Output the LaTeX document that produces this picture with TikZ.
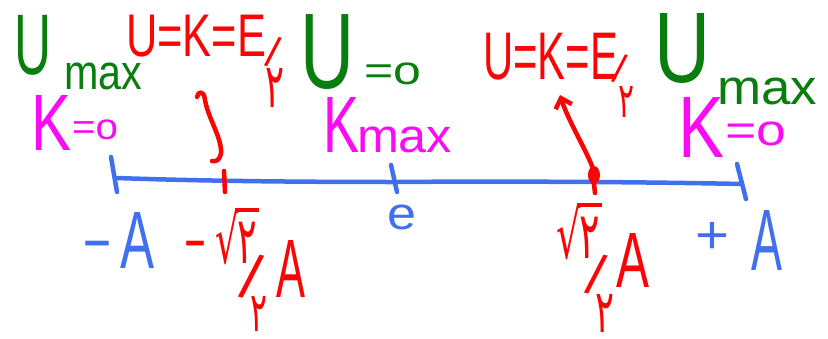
\documentclass[tikz,border=0pt]{standalone}
\usepackage{fontspec}
\usepackage{graphicx}
\setmainfont{Liberation Sans}
\newfontfamily\pfont{DejaVu Sans}
\usetikzlibrary{arrows.meta}
\newcommand{\fitto}[3]{\resizebox*{#1pt}{#2pt}{#3}}
\newcommand{\radtwo}{\hbox{\pfont √\kern-0.1em\vbox{\hrule height 0.06em\kern0.16em\hbox{\kern0.08em۲\kern0.05em}}}}
\definecolor{hgreen}{RGB}{10,125,15}
\definecolor{hred}{RGB}{250,5,5}
\definecolor{hmag}{RGB}{250,10,245}
\definecolor{hblue}{RGB}{65,112,238}
\begin{document}
\begin{tikzpicture}[x=1pt,y=-1pt,
  txt/.style={inner sep=0pt,outer sep=0pt,anchor=north west},
  gtxt/.style={txt,text=hgreen},
  mtxt/.style={txt,text=hmag},
  rtxt/.style={txt,text=hred},
  btxt/.style={txt,text=hblue},
  slash/.style={inner sep=0pt,outer sep=0pt,text=hred,rotate=-12},
  pen/.style={line width=4.5pt,line cap=round,line join=round}]
\useasboundingbox[fill=white] (0,0) rectangle (828,338);

% ---- green: potential energy
\node[gtxt] (uL)   at (15,15)  {\fitto{37}{60}{U}};
\node[gtxt] (maxL) at (64,63)  {\fitto{78}{27}{max}};
\node[gtxt] (uC)   at (300,15) {\fitto{54}{75}{U}};
\node[gtxt] (eqoC) at (364,63) {\fitto{57}{22}{=o}};
\node[gtxt] (uR)   at (654,13) {\fitto{56}{70}{U}};
\node[gtxt] (maxR) at (717,78) {\fitto{100}{27}{max}};

% ---- magenta: kinetic energy
\node[mtxt] (kL)   at (31,95)  {\fitto{40}{55}{K}};
\node[mtxt] (eqoL) at (72,120) {\fitto{46}{20}{=o}};
\node[mtxt] (kC)   at (323,97) {\fitto{36}{55}{K}};
\node[mtxt] (maxC) at (357,127){\fitto{95}{26}{max}};
\node[mtxt] (kR)   at (678,97) {\fitto{46}{60}{K}};
\node[mtxt] (eqoR) at (725,122){\fitto{61}{24}{=o}};

% ---- red: U = K = E/2
\node[rtxt] (eqL)  at (126,15) {\fitto{140}{42}{U=K=E}};
\node[slash,font=\fontsize{42}{42}\selectfont] (slL) at (273,52) {/};
\node[rtxt] (twL)  at (265,68) {\fitto{19}{39}{\pfont ۲}};
\node[rtxt] (eqR)  at (483,33) {\fitto{135}{47}{U=K=E}};
\node[slash,font=\fontsize{40}{40}\selectfont] (slR) at (620,69) {/};
\node[rtxt] (twR)  at (618,86) {\fitto{16}{31}{\pfont ۲}};

% ---- red: -sqrt2/2 A and sqrt2/2 A
\node[text=hred,inner sep=0pt,font=\fontsize{60}{60}\selectfont,xscale=1.2] (mnL) at (195,250) {-};
\node[rtxt] (radL) at (215,208) {\fitto{44}{57}{\radtwo}};
\node[slash,font=\fontsize{62}{62}\selectfont] (slbL) at (252,277) {/};
\node[rtxt] (twbL) at (250,296) {\fitto{17}{35}{\pfont ۲}};
\node[rtxt] (AL)   at (276,240) {\fitto{29}{57}{A}};
\node[rtxt] (radR) at (556,203) {\fitto{46}{57}{\radtwo}};
\node[slash,font=\fontsize{56}{56}\selectfont] (slbR) at (596,275) {/};
\node[rtxt] (twbR) at (595,294) {\fitto{19}{38}{\pfont ۲}};
\node[rtxt] (AR)   at (616,233) {\fitto{33}{54}{A}};

% ---- blue labels
\node[text=hblue,inner sep=0pt,font=\fontsize{60}{60}\selectfont,xscale=1.6] (mnB) at (97,250) {-};
\node[btxt] (AbL)  at (120,212) {\fitto{34}{56}{A}};
\node[btxt] (zero) at (387,205) {\fitto{29}{25}{e}};
\node[btxt] (plus) at (695,222) {\fitto{34}{31}{+}};
\node[btxt] (AbR)  at (751,210) {\fitto{31}{60}{A}};

% ---- axis
\coordinate (a0) at (117,178);
\coordinate (a2) at (397,182);
\coordinate (a4) at (742,184);
\draw[pen,hblue] (a0) .. controls (200,181) and (300,182) .. (a2)
                      .. controls (500,181) and (650,182) .. (a4);
\coordinate (tL1) at (111,157); \coordinate (tL2) at (117,192);
\coordinate (tC1) at (391,165); \coordinate (tC2) at (397,192);
\coordinate (tR1) at (737,164); \coordinate (tR2) at (746,199);
\draw[pen,hblue] (tL1) -- (tL2);
\draw[pen,hblue] (tC1) -- (tC2);
\draw[pen,hblue] (tR1) -- (tR2);
% red ticks
\coordinate (rL1) at (224,171); \coordinate (rL2) at (225,192);
\coordinate (rR1) at (592,166); \coordinate (rR2) at (595,193);
\draw[pen,hred] (rL1) -- (rL2);
\draw[pen,hred] (rR1) -- (rR2);
\fill[hred] (594,175) ellipse [x radius=6pt, y radius=9pt];

% ---- red squiggle (left) and arrow (right)
\coordinate (sqTop) at (197,97);
\coordinate (sqEnd) at (212,161);
\draw[pen,hred] (sqTop) .. controls (198,91) and (204,90) .. (205,100)
   .. controls (208,118) and (222,138) .. (221,153)
   .. controls (220,160) and (216,162) .. (sqEnd);
\coordinate (arTip) at (560,95);
\draw[pen,hred,-{Straight Barb[length=9pt,width=17pt,line width=4.5pt]}]
   (rR1) .. controls (585,148) and (568,120) .. (arTip);
\end{tikzpicture}
\end{document}
